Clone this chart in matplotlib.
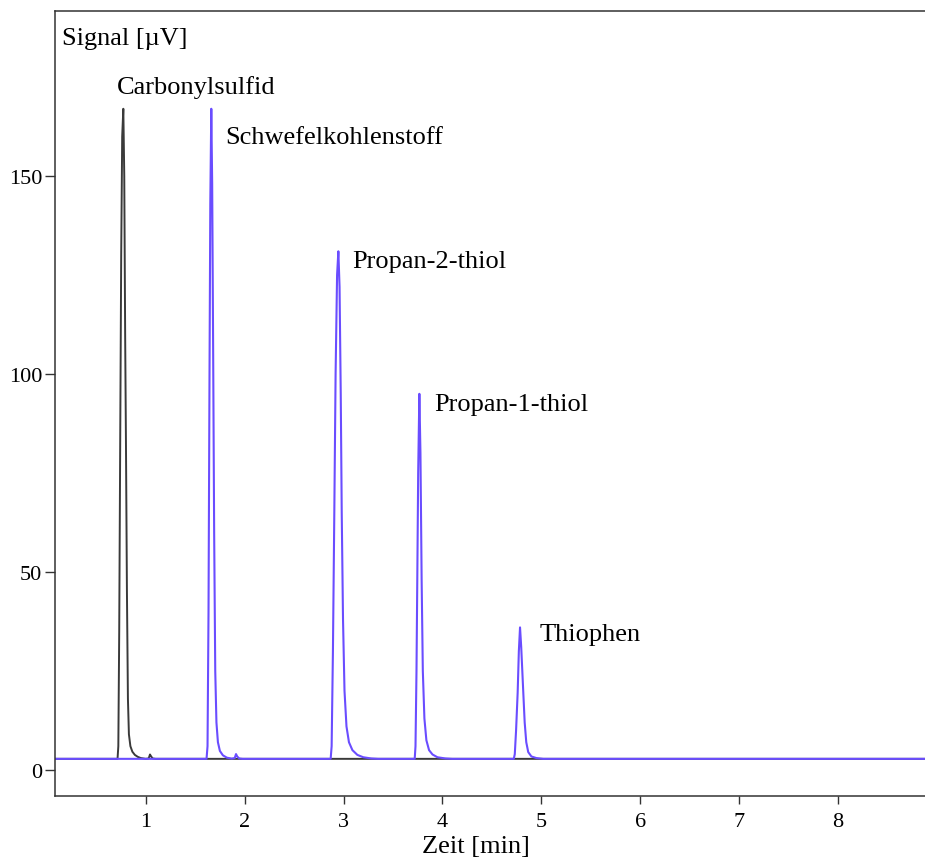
import matplotlib
matplotlib.use('Agg')
import matplotlib.pyplot as plt

# black trace (Carbonylsulfid)
black_time = [0.08, 0.715, 0.723, 0.732, 0.742, 0.752, 0.762, 0.7735, 0.783, 0.792,
              0.800, 0.810, 0.820, 0.830, 0.845, 0.865, 0.89, 0.92, 0.95, 1.00,
              1.03, 1.043, 1.055, 1.07, 1.10, 8.88]
black_signal = [2.8, 2.8, 6, 35, 83, 130, 160, 167, 150, 110,
                83, 45, 18, 9, 6, 4.6, 3.8, 3.3, 3.0, 2.8,
                2.9, 3.9, 3.4, 2.9, 2.8, 2.8]

# blue trace (other sulfur compounds)
blue_time = [0.08,
             1.615, 1.625, 1.635, 1.645, 1.653, 1.663, 1.672, 1.682, 1.692, 1.703,
             1.715, 1.73, 1.75, 1.78, 1.82, 1.87, 1.900, 1.913, 1.925, 1.945, 1.98,
             2.870, 2.880, 2.893, 2.907, 2.920, 2.935, 2.948, 2.960, 2.972, 2.982,
             2.995, 3.010, 3.030, 3.055, 3.09, 3.14, 3.20, 3.28, 3.35,
             3.720, 3.728, 3.738, 3.746, 3.755, 3.767, 3.778, 3.790, 3.802, 3.818,
             3.838, 3.865, 3.90, 3.95, 4.03, 4.10,
             4.722, 4.732, 4.745, 4.761, 4.773, 4.785, 4.797, 4.808, 4.818, 4.832,
             4.848, 4.868, 4.90, 4.95, 5.02,
             8.88]
blue_signal = [2.8,
               2.8, 6, 40, 100, 143, 167, 148, 105, 60, 25,
               12, 7, 4.8, 3.7, 3.1, 2.85, 3.0, 4.0, 3.4, 2.9, 2.8,
               2.8, 6, 30, 65, 100, 125, 131, 122, 95, 65,
               38, 20, 11, 7, 5, 3.8, 3.2, 2.9, 2.8,
               2.8, 6, 25, 48, 75, 95, 80, 48, 25, 13,
               7.5, 5, 3.9, 3.2, 2.9, 2.8,
               2.8, 4, 10, 19.5, 30, 36, 31, 25, 19.5, 12,
               7, 4.5, 3.4, 3.0, 2.8,
               2.8]

peak_names = ['Carbonylsulfid', 'Schwefelkohlenstoff', 'Propan-2-thiol',
              'Propan-1-thiol', 'Thiophen']
label_time = [0.71, 1.80, 3.086, 3.915, 4.987]
label_signal = [172.7, 159.8, 128.5, 92.4, 34.3]

x_ticks = [1, 2, 3, 4, 5, 6, 7, 8]
y_ticks = [0, 50, 100, 150]


def plot_chromatogram():
    plt.rcParams['font.family'] = ['Liberation Serif', 'DejaVu Serif']
    fig = plt.figure(figsize=(9.25, 8.62), dpi=100)
    ax = fig.add_axes([0.0595, 0.0758, 0.9405, 0.9103])

    ax.plot(black_time, black_signal, color='#3a3a3a', lw=1.4)
    ax.plot(blue_time, blue_signal, color='#6a4dff', lw=1.5)

    for name, t, s in zip(peak_names, label_time, label_signal):
        ax.text(t, s, name, fontsize=19, va='center', ha='left')

    ax.text(0.008, 0.965, 'Signal [\u00b5V]', transform=ax.transAxes,
            fontsize=19, va='center', ha='left')

    ax.set_xlim(0.083, 8.88)
    ax.set_ylim(-6.5, 191.7)
    ax.set_xticks(x_ticks)
    ax.set_yticks(y_ticks)
    ax.tick_params(axis='x', length=6, width=1, pad=6, labelsize=16, color='#333333')
    ax.tick_params(axis='y', length=7.2, width=1, pad=2, labelsize=16, color='#333333')
    for side in ['left', 'bottom', 'top']:
        ax.spines[side].set_color('#333333')
        ax.spines[side].set_linewidth(1.1)
    ax.spines['right'].set_visible(False)

    ax.set_xlabel('Zeit [min]', fontsize=19)
    ax.xaxis.set_label_coords((476 - 55) / 870, -0.050)

    fig.savefig('out.png', dpi=100)


def main():
    plot_chromatogram()


if __name__ == "__main__":
    main()
